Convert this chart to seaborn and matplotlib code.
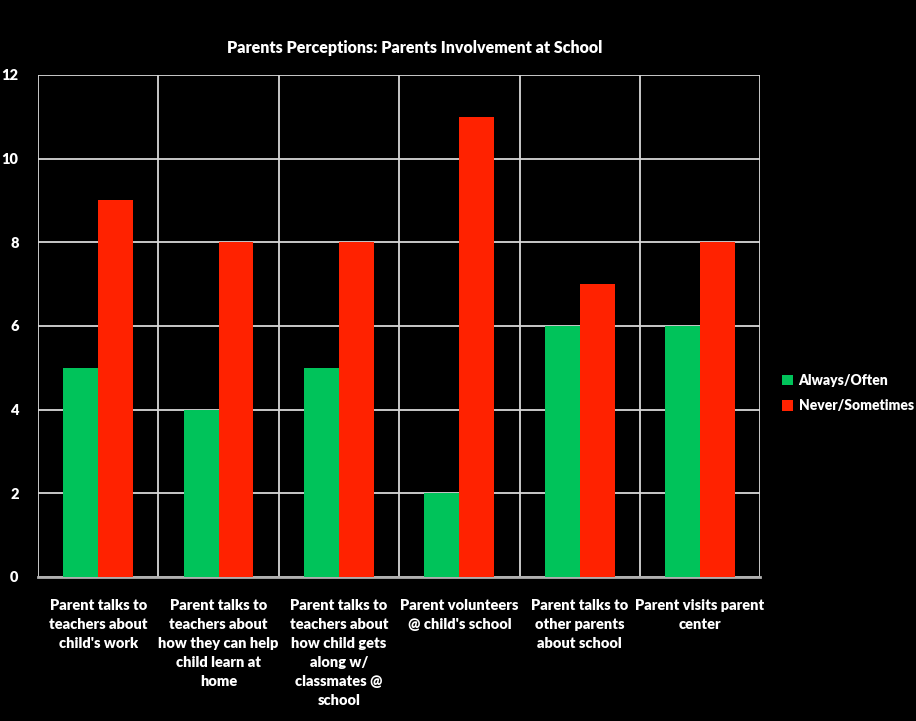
import seaborn as sns
import pandas as pd
import matplotlib.pyplot as plt
from matplotlib.ticker import FixedLocator

categories = [
    "Parent talks to\nteachers about\nchild's work",
    "Parent talks to\nteachers about\nhow they can help\nchild learn at\nhome",
    "Parent talks to\nteachers about\nhow child gets\nalong w/\nclassmates @\nschool",
    "Parent volunteers\n@ child's school",
    "Parent talks to\nother parents\nabout school",
    "Parent visits parent\ncenter",
]
always_often = [5, 4, 5, 2, 6, 6]
never_sometimes = [9, 8, 8, 11, 7, 8]
series = ["Always/Often", "Never/Sometimes"]
colors = ["#00c35a", "#ff2200"]


def main():
    df = pd.DataFrame({
        'Category': categories * 2,
        'Value': always_often + never_sometimes,
        'Series': [series[0]] * len(categories) + [series[1]] * len(categories),
    })

    sns.set_style("dark", {'axes.facecolor': 'black', 'figure.facecolor': 'black'})
    plt.rcParams['font.family'] = ['Lato', 'DejaVu Sans']
    plt.rcParams['font.weight'] = 'bold'

    fig = plt.figure(figsize=(9.16, 7.21), dpi=100, facecolor='black')
    ax = fig.add_axes([0.0415, 0.2, 0.7885, 0.696])
    ax.set_facecolor('black')

    sns.barplot(data=df, x='Category', y='Value', hue='Series', palette=colors,
                width=0.58, gap=0, saturation=1, ax=ax, zorder=3,
                edgecolor='none', linewidth=0)

    ax.set_xlim(-0.5, len(categories) - 0.5)
    ax.set_ylim(0, 12)
    ax.set_yticks(range(0, 13, 2))
    ax.set_xticks(range(len(categories)), labels=categories, linespacing=1.55,
                  fontweight='heavy')
    ax.xaxis.set_minor_locator(FixedLocator([i - 0.5 for i in range(len(categories) + 1)]))
    ax.grid(False)
    ax.grid(axis='y', which='major', color='#d8d8d8', linewidth=1.3, zorder=1)
    ax.grid(axis='x', which='minor', color='#d8d8d8', linewidth=1.3, zorder=1)
    ax.tick_params(axis='both', which='both', length=0)
    ax.tick_params(axis='x', pad=16, colors='white', labelsize=10.5)
    ax.tick_params(axis='y', pad=14, colors='white', labelsize=10.5)
    for lab in ax.get_yticklabels():
        lab.set_fontweight('heavy')
    for side in ['top', 'right', 'left']:
        ax.spines[side].set_visible(False)
    ax.spines['bottom'].set_color('#b0b0b0')
    ax.spines['bottom'].set_linewidth(2)

    ax.set_xlabel('')
    ax.set_ylabel('')
    fig.suptitle('Parents Perceptions: Parents Involvement at School', x=0.4525, y=0.945,
                 color='white', fontsize=11.5, fontweight='heavy')

    ax.legend(loc='center left', bbox_to_anchor=(0.84, 0.455), bbox_transform=fig.transFigure,
              frameon=False, labelcolor='white', handlelength=0.8,
              handleheight=0.8, handletextpad=0.4, labelspacing=0.9,
              prop={'weight': 'heavy', 'size': 10})

    fig.savefig('out.png', dpi=100, facecolor='black')


main()
